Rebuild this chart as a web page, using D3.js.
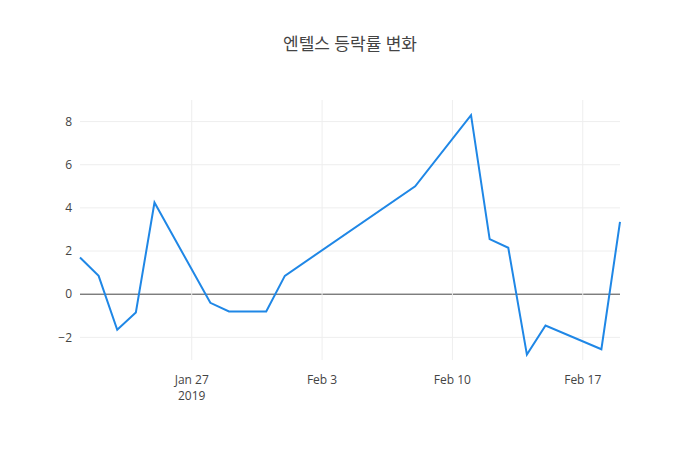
<!DOCTYPE html>
<html><head><meta charset="utf-8">
<script src="https://cdn.jsdelivr.net/npm/d3@7"></script>
<style>body{margin:0;background:#fff}text{font-family:"Open Sans","Noto Sans CJK KR",sans-serif}</style>
</head><body><svg id="c" width="700" height="450"></svg>
<script>
const dates = ['2019-01-21','2019-01-22','2019-01-23','2019-01-24','2019-01-25','2019-01-28','2019-01-29','2019-01-31','2019-02-01','2019-02-08','2019-02-11','2019-02-12','2019-02-13','2019-02-14','2019-02-15','2019-02-18','2019-02-19'];
const values = [1.7,0.85,-1.65,-0.85,4.25,-0.4,-0.8,-0.8,0.85,5.0,8.3,2.55,2.15,-2.8,-1.45,-2.55,3.35];
const yTicks = [-2,0,2,4,6,8];
const xTicks = ['2019-01-27','2019-02-03','2019-02-10','2019-02-17'];
const xLabels = ['Jan 27','Feb 3','Feb 10','Feb 17'];

const parse = d3.timeParse('%Y-%m-%d');
const svg = d3.select('#c');
const m = {l: 80, r: 80, t: 100, b: 90};
const w = 700 - m.l - m.r, h = 450 - m.t - m.b;
const x = d3.scaleTime().domain([parse(dates[0]), parse(dates[dates.length - 1])]).range([0, w]);
const y = d3.scaleLinear().domain([-3.05, 9.0]).range([h, 0]);
const g = svg.append('g').attr('transform', `translate(${m.l},${m.t})`);

g.selectAll('.gy').data(yTicks).join('line')
  .attr('x1', 0).attr('x2', w).attr('y1', d => y(d)).attr('y2', d => y(d))
  .attr('stroke', d => d === 0 ? '#444' : '#eee').attr('stroke-width', 1);
g.selectAll('.gx').data(xTicks).join('line')
  .attr('x1', d => x(parse(d))).attr('x2', d => x(parse(d))).attr('y1', 0).attr('y2', h)
  .attr('stroke', '#eee');
g.selectAll('.ly').data(yTicks).join('text')
  .attr('x', -8).attr('y', d => y(d)).attr('dy', '0.35em').attr('text-anchor', 'end')
  .attr('font-size', 12).attr('fill', '#444').text(d => d < 0 ? '−' + Math.abs(d) : d);
g.selectAll('.lx').data(xTicks).join('text')
  .attr('x', d => x(parse(d))).attr('y', h + 24).attr('text-anchor', 'middle')
  .attr('font-size', 12).attr('fill', '#444').text((d, i) => xLabels[i]);
g.append('text').attr('x', x(parse(xTicks[0]))).attr('y', h + 40).attr('text-anchor', 'middle')
  .attr('font-size', 12).attr('fill', '#444').text('2019');

g.append('path').datum(dates.map((d, i) => [parse(d), values[i]]))
  .attr('fill', 'none').attr('stroke', '#1f87e6').attr('stroke-width', 2)
  .attr('d', d3.line().x(d => x(d[0])).y(d => y(d[1])));

svg.append('text').attr('x', 350).attr('y', 50).attr('text-anchor', 'middle')
  .attr('font-size', 17).attr('fill', '#444').text('엔텔스 등락률 변화');
</script></body></html>
